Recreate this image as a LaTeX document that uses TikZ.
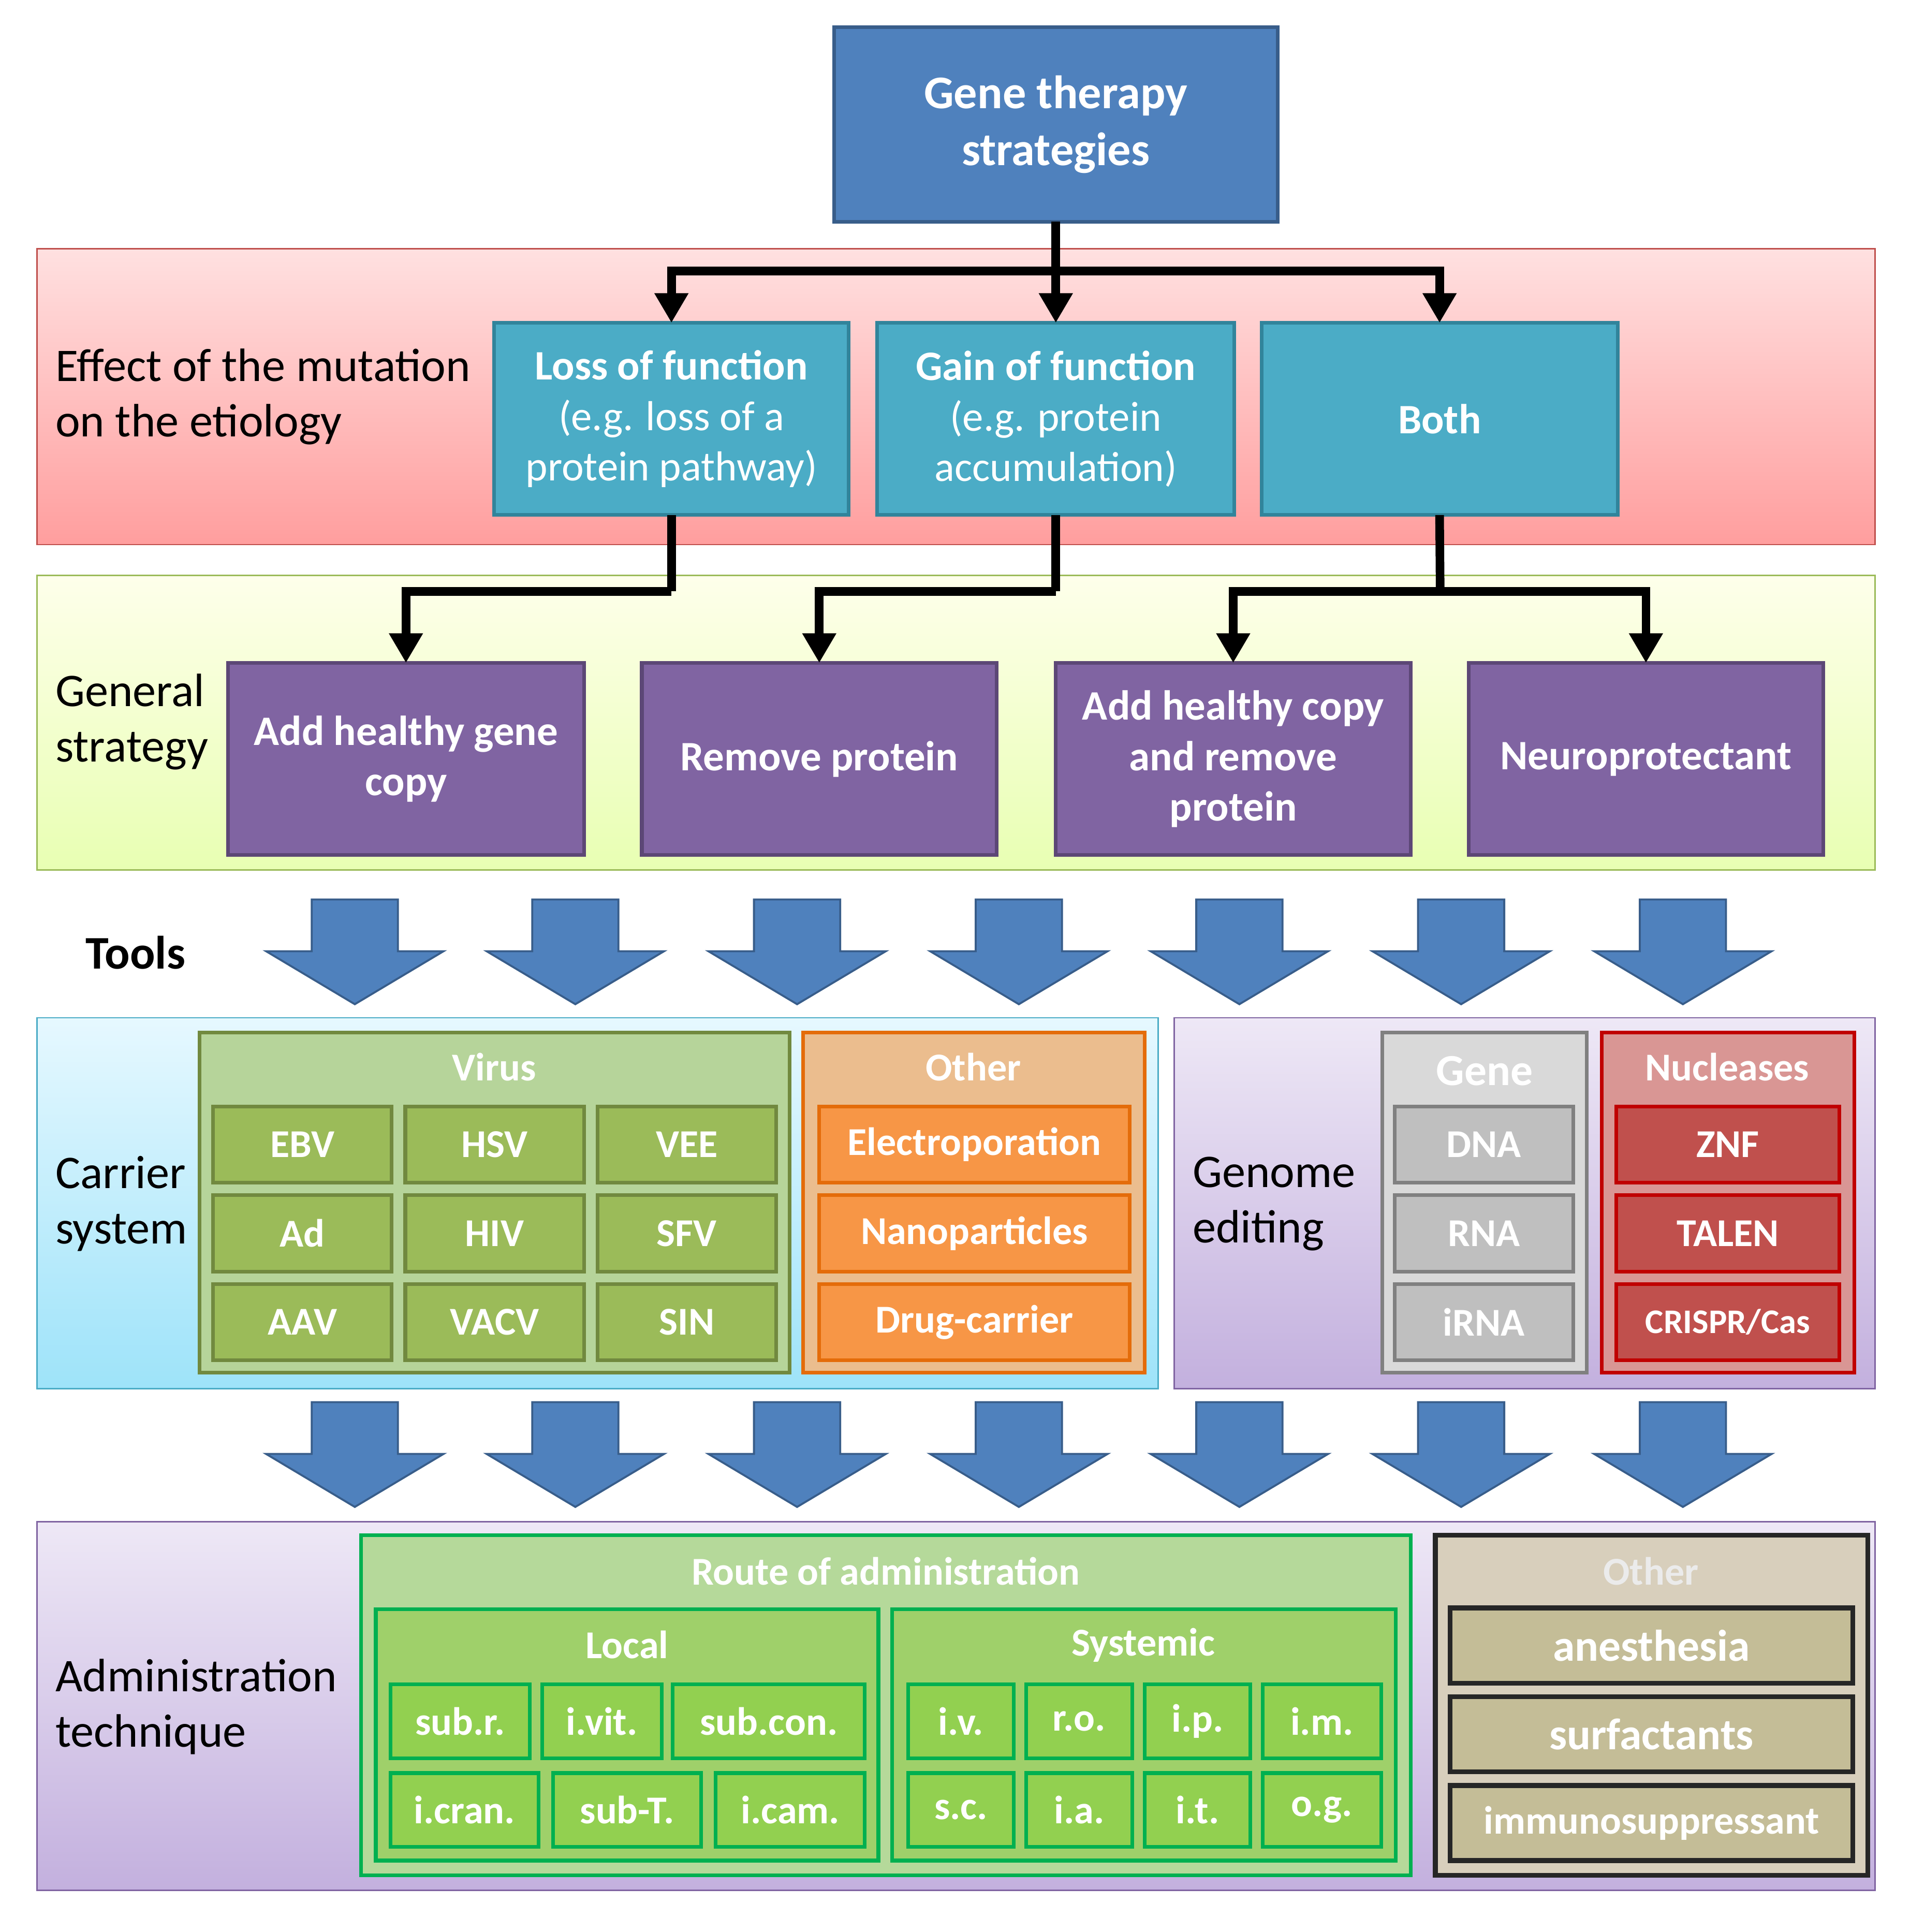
\documentclass[tikz,border=0pt]{standalone}
\usepackage{fontspec}
\setmainfont{Carlito}
\usetikzlibrary{arrows.meta}
\definecolor{dblue}{HTML}{4F81BD}\definecolor{dbluel}{HTML}{385D8A}
\definecolor{teal}{HTML}{4BACC6}\definecolor{teall}{HTML}{31849B}
\definecolor{purp}{HTML}{8064A2}\definecolor{purpl}{HTML}{5C4776}
\definecolor{vg}{HTML}{9BBB59}\definecolor{vgl}{HTML}{71893F}\definecolor{vgb}{HTML}{B6D49A}
\definecolor{or}{HTML}{F79646}\definecolor{orl}{HTML}{E46C0A}\definecolor{orb}{HTML}{EBBD8E}
\definecolor{gy}{HTML}{BFBFBF}\definecolor{gyl}{HTML}{808080}\definecolor{gyb}{HTML}{D9D9D9}
\definecolor{rd}{HTML}{C0504D}\definecolor{rdl}{HTML}{C00000}\definecolor{rdb}{HTML}{D99694}
\definecolor{lg}{HTML}{92D050}\definecolor{lgl}{HTML}{00B050}\definecolor{lgb}{HTML}{B5D99A}\definecolor{lgm}{HTML}{9FD06A}
\definecolor{tn}{HTML}{C4BD97}\definecolor{tnb}{HTML}{D8CFBC}\definecolor{tnl}{HTML}{262626}
\definecolor{cyt}{HTML}{E6F8FF}\definecolor{cyb}{HTML}{9EE3F9}
\definecolor{put}{HTML}{EEE8F6}\definecolor{pub}{HTML}{C3B0DE}
\tikzset{
 txt/.style={font=\fontsize{17}{20.5}\selectfont,align=center,text=white},
 btxt/.style={font=\bfseries\fontsize{17}{20.5}\selectfont,align=center,text=white},
 lbl/.style={font=\fontsize{19}{22.5}\selectfont,align=left,anchor=west,text=black},
 hdr/.style={font=\bfseries\fontsize{16}{19}\selectfont,text=white},
 cell/.style={font=\bfseries\fontsize{16}{19}\selectfont,text=white,line width=1.5pt},
 band/.style={line width=0.6pt},
 conn/.style={line width=3.5pt,-{Triangle[length=12pt,width=13pt]}},
 barrow/.style={fill=dblue,draw=dbluel,line width=0.8pt},
}
\newcommand\bx[7]{\pgfmathsetmacro\bw{(#4-#2)*0.5}\pgfmathsetmacro\bh{(#5-#3)*0.5}%
 \node[#6,minimum width=\bw pt,minimum height=\bh pt,inner sep=0pt,outer sep=0pt] (#1) at ({(#2+#4)/2},{(#3+#5)/2}) {#7};}
\newcommand\barr[2]{\path[barrow] (#1-35,#2) -- (#1+35,#2) -- (#1+35,#2+42) -- (#1+72,#2+42) -- (#1,#2+85) -- (#1-72,#2+42) -- (#1-35,#2+42) -- cycle;}
\begin{document}
\begin{tikzpicture}[x=0.5pt,y=-0.5pt]
\useasboundingbox (0,0) rectangle (1550,1568);
% bands
\bx{b1}{30}{202}{1522}{442}{band,draw=rd,top color=red!12,bottom color=red!38}{}
\bx{b2}{30}{467}{1522}{706}{band,draw=vg,top color=green!5!yellow!8,bottom color=green!30!yellow!30}{}
\bx{b3}{30}{826}{940}{1127}{band,draw=teal,top color=cyt,bottom color=cyb}{}
\bx{b4}{953}{826}{1522}{1127}{band,draw=purp,top color=put,bottom color=pub}{}
\bx{b5}{30}{1235}{1522}{1534}{band,draw=purp,top color=put,bottom color=pub}{}
% top
\bx{top}{677}{22}{1037}{180}{btxt,font=\bfseries\fontsize{19}{23}\selectfont,fill=dblue,draw=dbluel,line width=1.5pt}{Gene therapy\\strategies}
\node[lbl] (l1) at (38,322) {Effect of the mutation\\on the etiology};
\bx{loss}{401}{262}{689}{418}{txt,fill=teal,draw=teall,line width=1.5pt}{\textbf{Loss of function}\\(e.g. loss of a\\protein pathway)}
\bx{gain}{712}{262}{1002}{418}{txt,fill=teal,draw=teall,line width=1.5pt}{\textbf{Gain of function}\\(e.g. protein\\accumulation)}
\bx{both}{1024}{262}{1313}{418}{btxt,fill=teal,draw=teall,line width=1.5pt}{Both}
\coordinate (j1) at (857,220);
\draw[line width=3.5pt] (top.south) -- (j1);
\draw[conn] (j1) -| (loss.north);
\draw[conn] (j1) -- (gain.north);
\draw[conn] (j1) -| (both.north);
\node[lbl] (l2) at (38,586) {General\\strategy};
\bx{add}{185}{538}{474}{694}{btxt,fill=purp,draw=purpl,line width=1.5pt}{Add healthy gene\\copy}
\bx{rem}{521}{538}{809}{694}{btxt,fill=purp,draw=purpl,line width=1.5pt}{Remove protein}
\bx{addrem}{857}{538}{1145}{694}{btxt,fill=purp,draw=purpl,line width=1.5pt}{Add healthy copy\\and remove\\protein}
\bx{neuro}{1192}{538}{1480}{694}{btxt,fill=purp,draw=purpl,line width=1.5pt}{Neuroprotectant}
\coordinate (j2) at (545,480);\coordinate (j3) at (857,480);\coordinate (j4) at (1169,480);
\draw[line width=3.5pt] (loss.south) -- (j2);\draw[conn] (j2) -| (add.north);
\draw[line width=3.5pt] (gain.south) -- (j3);\draw[conn] (j3) -| (rem.north);
\draw[line width=3.5pt] (both.south) -- (j4);\draw[conn] (j4) -| (addrem.north);\draw[conn] (j4) -| (neuro.north);
% tools
\node[font=\bfseries\fontsize{19}{22}\selectfont] (tools) at (110,773) {Tools};
\foreach \c in {288,467,647,827,1006,1186,1366}{\barr{\c}{730}\barr{\c}{1138}}
% carrier
\node[lbl] (l3) at (38,977) {Carrier\\system};
\bx{virus}{162}{838}{641}{1114}{fill=vgb,draw=vgl,line width=1.5pt}{}
\node[hdr] (vh) at (401,866) {Virus};
\foreach \t [count=\i from 0] in {EBV,HSV,VEE,Ad,HIV,SFV,AAV,VACV,SIN}{
 \pgfmathtruncatemacro\cc{mod(\i,3)}\pgfmathtruncatemacro\rr{div(\i,3)}
 \pgfmathsetmacro\xa{173+156*\cc}\pgfmathsetmacro\ya{898+72*\rr}
 \bx{v\i}{\xa}{\ya}{\xa+145}{\ya+62}{cell,fill=vg,draw=vgl}{\t}}
\bx{oth}{652}{838}{929}{1114}{fill=orb,draw=orl,line width=1.5pt}{}
\node[hdr] (oh) at (790,866) {Other};
\bx{o1}{665}{898}{917}{960}{cell,fill=or,draw=orl}{Electroporation}
\bx{o2}{665}{970}{917}{1032}{cell,fill=or,draw=orl}{Nanoparticles}
\bx{o3}{665}{1042}{917}{1104}{cell,fill=or,draw=orl}{Drug-carrier}
% genome
\node[lbl] (l4) at (961,977) {Genome\\editing};
\bx{gene}{1122}{838}{1288}{1114}{fill=gyb,draw=gyl,line width=1.5pt}{}
\node[hdr,font=\bfseries\fontsize{18}{21}\selectfont] (gh) at (1205,869) {Gene};
\bx{g1}{1132}{898}{1277}{960}{cell,fill=gy,draw=gyl}{DNA}
\bx{g2}{1132}{970}{1277}{1032}{cell,fill=gy,draw=gyl}{RNA}
\bx{g3}{1132}{1042}{1277}{1104}{cell,fill=gy,draw=gyl}{iRNA}
\bx{nuc}{1300}{838}{1505}{1114}{fill=rdb,draw=rdl,line width=1.5pt}{}
\node[hdr] (nh) at (1402,866) {Nucleases};
\bx{n1}{1312}{898}{1493}{960}{cell,fill=rd,draw=rdl}{ZNF}
\bx{n2}{1312}{970}{1493}{1032}{cell,fill=rd,draw=rdl}{TALEN}
\bx{n3}{1312}{1042}{1493}{1104}{cell,fill=rd,draw=rdl,font=\bfseries\fontsize{14}{17}\selectfont}{CRISPR/Cas}
% administration
\node[lbl] (l5) at (38,1385) {Administration\\technique};
\bx{route}{293}{1246}{1145}{1522}{fill=lgb,draw=lgl,line width=1.5pt}{}
\node[hdr] (rh) at (719,1275) {Route of administration};
\bx{loc}{305}{1306}{713}{1510}{fill=lgm,draw=lgl,line width=1.5pt}{}
\node[hdr] (lh) at (509,1335) {Local};
\bx{sys}{724}{1306}{1133}{1510}{fill=lgm,draw=lgl,line width=1.5pt}{}
\node[hdr] (sh) at (928,1335) {Systemic};
\bx{a1}{317}{1367}{430}{1427}{cell,fill=lg,draw=lgl}{sub.r.}
\bx{a2}{440}{1367}{537}{1427}{cell,fill=lg,draw=lgl}{i.vit.}
\bx{a3}{546}{1367}{702}{1427}{cell,fill=lg,draw=lgl}{sub.con.}
\bx{a4}{317}{1439}{437}{1499}{cell,fill=lg,draw=lgl}{i.cran.}
\bx{a5}{449}{1439}{569}{1499}{cell,fill=lg,draw=lgl}{sub-T.}
\bx{a6}{581}{1439}{702}{1499}{cell,fill=lg,draw=lgl}{i.cam.}
\foreach \t/\xa/\w [count=\i] in {i.v./737/86,r.o./833/86,i.p./929/86,i.m./1025/96}{\bx{s\i}{\xa}{1367}{\xa+\w}{1427}{cell,fill=lg,draw=lgl}{\t}}
\foreach \t/\xa/\w [count=\i] in {s.c./737/86,i.a./833/86,i.t./929/86,o.g./1025/96}{\bx{t\i}{\xa}{1439}{\xa+\w}{1499}{cell,fill=lg,draw=lgl}{\t}}
\bx{oth2}{1165}{1246}{1516}{1522}{fill=tnb,draw=tnl,line width=2pt}{}
\node[hdr,text=white!92!black] (o2h) at (1340,1275) {Other};
\bx{p1}{1177}{1305}{1504}{1366}{cell,fill=tn,draw=tnl,line width=2pt,font=\bfseries\fontsize{18}{21}\selectfont}{anesthesia}
\bx{p2}{1177}{1377}{1504}{1438}{cell,fill=tn,draw=tnl,line width=2pt,font=\bfseries\fontsize{18}{21}\selectfont}{surfactants}
\bx{p3}{1177}{1449}{1504}{1510}{cell,fill=tn,draw=tnl,line width=2pt}{immunosuppressant}
\end{tikzpicture}
\end{document}
